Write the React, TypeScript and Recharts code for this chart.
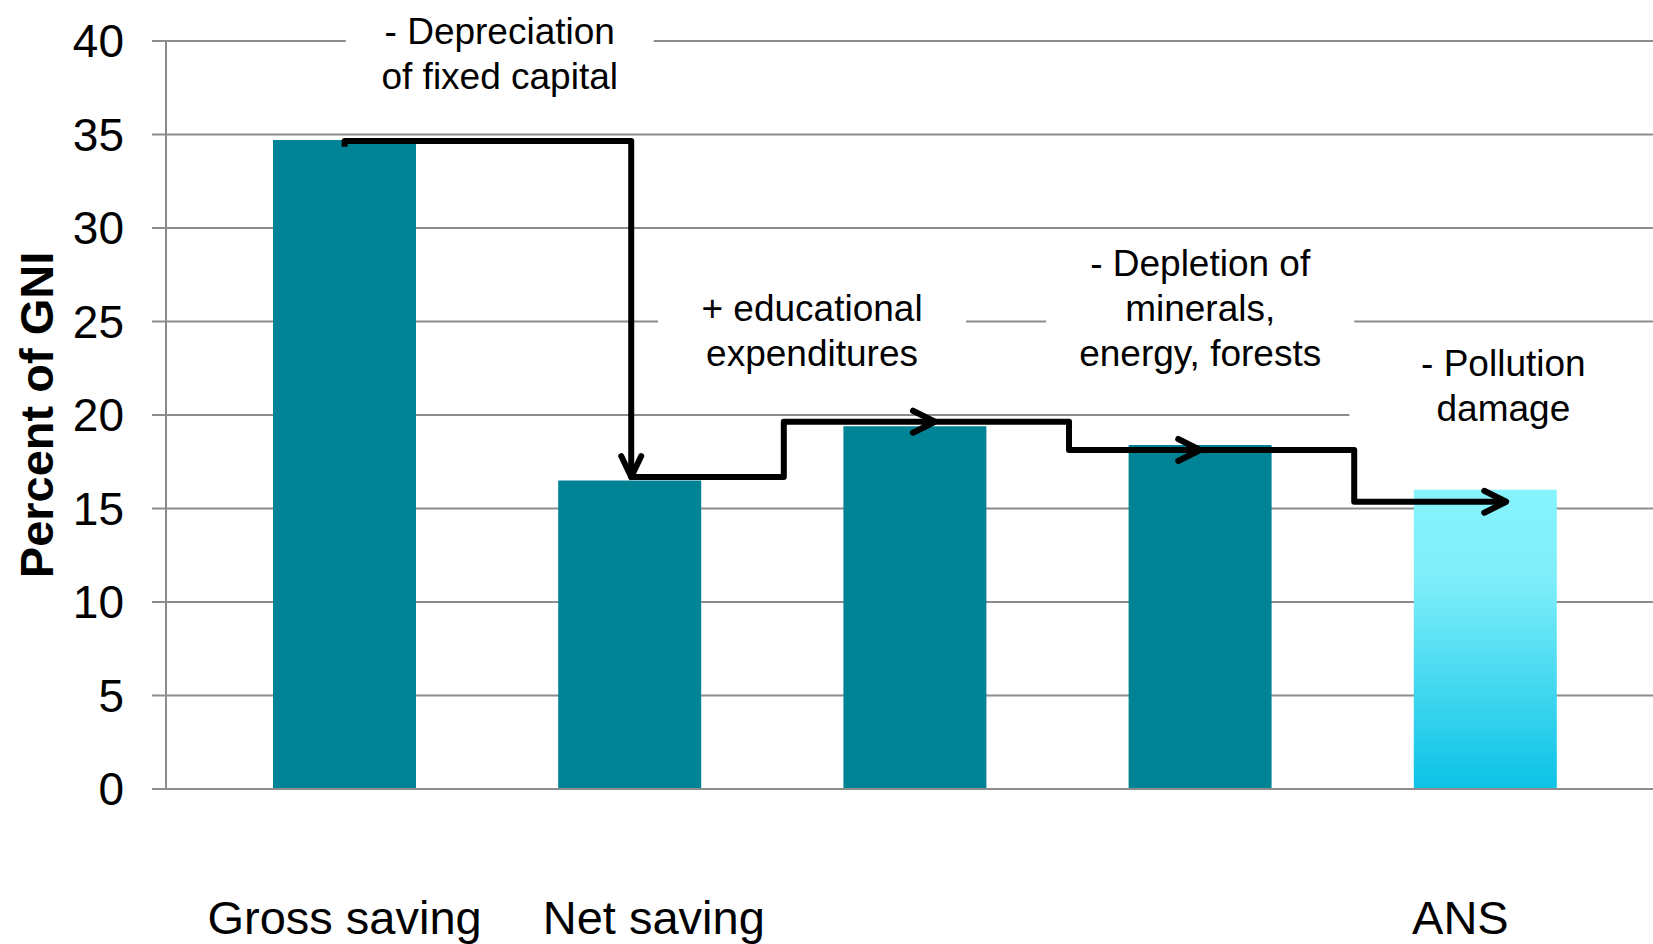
import {
  ComposedChart,
  Bar,
  Cell,
  Scatter,
  XAxis,
  YAxis,
  CartesianGrid,
  ReferenceArea,
} from "recharts";

const categories = ["Gross saving", "Net saving", "Education", "Depletion", "ANS"];
const tickLabels = ["Gross saving", "Net saving", "", "", "ANS"];
const values = [34.7, 16.5, 19.4, 18.4, 16.0];
const yTicks = [0, 5, 10, 15, 20, 25, 30, 35, 40];

// step connector between bars (y levels, x turns and arrow tips on the index axis)
const stepLevels = [34.65, 16.68, 19.64, 18.13, 15.36];
const stepTurns = [1.505, 2.04, 3.04, 4.04];
const arrowTips = [1.505, 2.57, 3.5, 4.573];

const notes = [
  { lines: ["- Depreciation", "of fixed capital"], x1: 0.504, x2: 1.584, y1: 36.8, y2: 41.8 },
  { lines: ["+ educational", "expenditures"], x1: 1.599, x2: 2.679, y1: 22.17, y2: 26.77 },
  { lines: ["- Depletion of", "minerals,", "energy, forests"], x1: 2.96, x2: 4.04, y1: 22.17, y2: 29.17 },
  { lines: ["- Pollution", "damage"], x1: 4.023, x2: 5.103, y1: 18.53, y2: 24.53 },
];

const FONT = '"Liberation Sans", Arial, sans-serif';
const TEAL = "#008394";
const GRID = "#8c8c8c";
const labelShift = [0, 24, 0, 0, -25];

const data = categories.map((name, i) => ({ name, value: values[i] }));

const connector: { x: number; y: number; arrow?: string }[] = [
  { x: 0.5, y: stepLevels[0] - 0.3 },
  { x: 0.5, y: stepLevels[0] },
  { x: stepTurns[0], y: stepLevels[0] },
  { x: arrowTips[0], y: stepLevels[1], arrow: "down" },
  { x: stepTurns[1], y: stepLevels[1] },
  { x: stepTurns[1], y: stepLevels[2] },
  { x: arrowTips[1], y: stepLevels[2], arrow: "right" },
  { x: stepTurns[2], y: stepLevels[2] },
  { x: stepTurns[2], y: stepLevels[3] },
  { x: arrowTips[2], y: stepLevels[3], arrow: "right" },
  { x: stepTurns[3], y: stepLevels[3] },
  { x: stepTurns[3], y: stepLevels[4] },
  { x: arrowTips[3], y: stepLevels[4], arrow: "right" },
];

function ArrowHead(props: any) {
  const { cx, cy, payload } = props;
  if (!payload || !payload.arrow || cx == null) return <g />;
  const d =
    payload.arrow === "down"
      ? `M${cx - 10},${cy - 21} L${cx},${cy} L${cx + 10},${cy - 21}`
      : `M${cx - 22},${cy - 11} L${cx},${cy} L${cx - 22},${cy + 11}`;
  return (
    <path d={d} fill="none" stroke="#000" strokeWidth={6} strokeLinecap="round" strokeLinejoin="round" />
  );
}

function noteLabel(lines: string[]) {
  return (p: any) => {
    const vb = p.viewBox;
    if (!vb) return null;
    const cx = vb.x + vb.width / 2;
    const cy = vb.y + vb.height / 2;
    return (
      <text x={cx} y={cy} textAnchor="middle" fontFamily={FONT} fontSize={37} fill="#000">
        {lines.map((t, i) => (
          <tspan key={i} x={cx} y={cy + (i - (lines.length - 1) / 2) * 45} dominantBaseline="central">
            {t}
          </tspan>
        ))}
      </text>
    );
  };
}

function XTick(props: any) {
  const { x, y, index } = props;
  const label = tickLabels[index];
  if (!label) return null;
  return (
    <text x={x + labelShift[index]} y={y + 145} textAnchor="middle" fontFamily={FONT} fontSize={47} fill="#000">
      {label}
    </text>
  );
}

export default function App() {
  return (
    <div style={{ position: "absolute", left: 0, top: 0, width: 1653, height: 944, background: "#fff" }}>
      <ComposedChart width={1653} height={944} data={data} margin={{ top: 41, right: 0, bottom: 0, left: 0 }}>
        <defs>
          <linearGradient id="ansGrad" x1="0" y1="0" x2="0" y2="1">
            <stop offset="0%" stopColor="#87f3fc" />
            <stop offset="30%" stopColor="#7eeefa" />
            <stop offset="100%" stopColor="#0bc2e6" />
          </linearGradient>
        </defs>
        <CartesianGrid vertical={false} stroke={GRID} strokeWidth={2} />
        <XAxis
          xAxisId="c"
          dataKey="name"
          height={155}
          padding={{ left: 36, right: 25 }}
          axisLine={{ stroke: GRID, strokeWidth: 2 }}
          tickLine={false}
          tickSize={0}
          tickMargin={0}
          interval={0}
          tick={<XTick />}
        />
        <XAxis xAxisId="n" type="number" dataKey="x" domain={[0, 5]} hide padding={{ left: 36, right: 25 }} allowDataOverflow />
        <YAxis
          dataKey="y"
          domain={[0, 40]}
          ticks={yTicks}
          interval={0}
          width={166}
          tickSize={14}
          tickMargin={28}
          axisLine={{ stroke: GRID, strokeWidth: 2 }}
          tickLine={{ stroke: GRID, strokeWidth: 2 }}
          tick={{ fill: "#000", fontSize: 46, fontFamily: FONT }}
          label={(p: any) => {
            const vb = p.viewBox;
            const cx = 36;
            const cy = vb ? vb.y + vb.height / 2 : 415;
            return (
              <text
                x={cx}
                y={cy}
                transform={`rotate(-90, ${cx}, ${cy})`}
                textAnchor="middle"
                dominantBaseline="central"
                fontFamily={FONT}
                fontWeight="bold"
                fontSize={47}
                fill="#000"
              >
                Percent of GNI
              </text>
            );
          }}
        />
        {notes.map((n, i) => (
          <ReferenceArea
            key={i}
            xAxisId="n"
            x1={n.x1}
            x2={n.x2}
            y1={n.y1}
            y2={n.y2}
            fill="#fff"
            fillOpacity={1}
            stroke="none"
            ifOverflow="visible"
            label={noteLabel(n.lines)}
          />
        ))}
        <Bar xAxisId="c" dataKey="value" barSize={143} isAnimationActive={false}>
          {data.map((d, i) => (
            <Cell key={d.name} fill={i === data.length - 1 ? "url(#ansGrad)" : TEAL} />
          ))}
        </Bar>
        <Scatter
          xAxisId="n"
          data={connector}
          dataKey="y"
          line={{ stroke: "#000", strokeWidth: 6, strokeLinejoin: "round" }}
          lineJointType="linear"
          shape={<ArrowHead />}
          isAnimationActive={false}
        />
      </ComposedChart>
    </div>
  );
}
